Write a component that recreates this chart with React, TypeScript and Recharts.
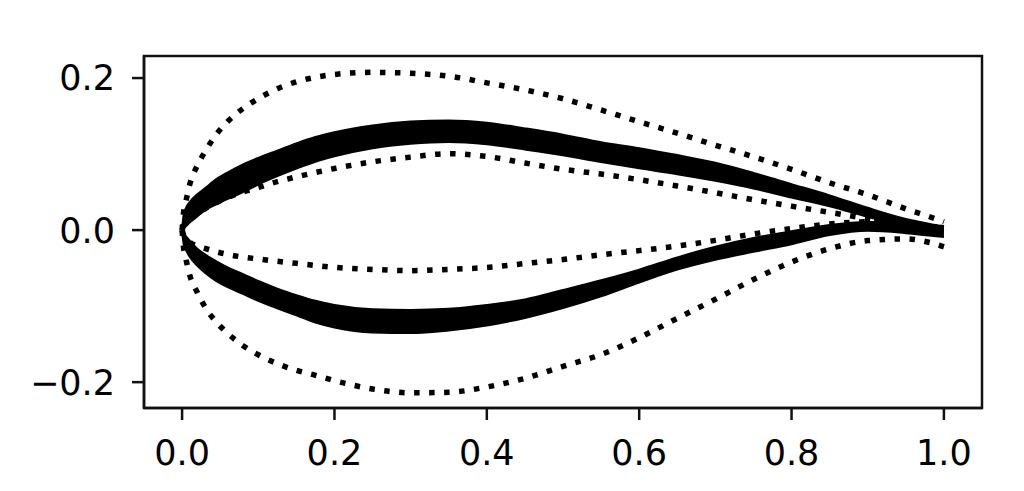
import React from "react";
import {
  ComposedChart,
  Area,
  Line,
  XAxis,
  YAxis,
  ReferenceArea,
} from "recharts";

// chordwise stations
const xs = [0, 0.002, 0.005, 0.01, 0.02, 0.03, 0.045, 0.06, 0.08, 0.1, 0.125, 0.15, 0.175, 0.2, 0.25, 0.3, 0.35, 0.4, 0.45, 0.5, 0.55, 0.6, 0.65, 0.7, 0.75, 0.8, 0.85, 0.9, 0.95, 0.98, 1.0];

// dotted envelopes
const outerUpper = [0, 0.024, 0.038, 0.06, 0.085, 0.103, 0.126, 0.143, 0.16, 0.173, 0.186, 0.195, 0.201, 0.2047, 0.2075, 0.2063, 0.2025, 0.1937, 0.1845, 0.1728, 0.158, 0.1425, 0.1275, 0.1117, 0.0965, 0.08, 0.0622, 0.0466, 0.028, 0.018, 0.011];
const outerLower = [0, -0.024, -0.038, -0.059, -0.082, -0.101, -0.121, -0.136, -0.152, -0.164, -0.1757, -0.1845, -0.191, -0.198, -0.209, -0.214, -0.2133, -0.2064, -0.195, -0.1793, -0.1637, -0.1415, -0.116, -0.091, -0.065, -0.042, -0.0245, -0.0138, -0.0116, -0.016, -0.022];
const innerUpper = [0, 0.006, 0.01, 0.015, 0.022, 0.028, 0.036, 0.043, 0.05, 0.056, 0.0637, 0.07, 0.0758, 0.081, 0.0898, 0.096, 0.1005, 0.0968, 0.0882, 0.08, 0.0737, 0.0663, 0.058, 0.0492, 0.04, 0.0315, 0.0233, 0.015, 0.008, 0.005, 0.003];
const innerLower = [0, -0.006, -0.011, -0.016, -0.021, -0.024, -0.0285, -0.032, -0.0355, -0.038, -0.041, -0.0437, -0.0465, -0.049, -0.0517, -0.0534, -0.0516, -0.0492, -0.044, -0.0387, -0.0325, -0.027, -0.021, -0.0135, -0.005, 0.002, 0.008, 0.011, 0.009, 0.006, 0.002];

// thick band of sampled airfoils (upper surface)
const upperBandTop = [0, 0.02, 0.029, 0.037, 0.047, 0.055, 0.067, 0.076, 0.0865, 0.095, 0.1045, 0.114, 0.1224, 0.1288, 0.1377, 0.1428, 0.1443, 0.1413, 0.1338, 0.1255, 0.1155, 0.1078, 0.0987, 0.0885, 0.0752, 0.0605, 0.0457, 0.0293, 0.0147, 0.0084, 0.004];
const upperBandBottom = [0, 0.002, 0.005, 0.01, 0.018, 0.026, 0.034, 0.041, 0.05, 0.06, 0.071, 0.081, 0.09, 0.097, 0.1077, 0.1135, 0.1158, 0.1128, 0.106, 0.0985, 0.0894, 0.0812, 0.0736, 0.0648, 0.0548, 0.0427, 0.0313, 0.0175, 0.005, 0.0, -0.004];
// thick band of sampled airfoils (lower surface)
const lowerBandTop = [0, -0.004, -0.008, -0.014, -0.0245, -0.032, -0.041, -0.049, -0.058, -0.067, -0.077, -0.0855, -0.093, -0.0985, -0.104, -0.105, -0.1035, -0.0985, -0.0912, -0.0788, -0.066, -0.052, -0.036, -0.022, -0.0105, -0.0015, 0.0067, 0.0105, 0.009, 0.0065, 0.004];
const lowerBandBottom = [0, -0.018, -0.026, -0.035, -0.047, -0.056, -0.067, -0.075, -0.084, -0.093, -0.103, -0.112, -0.1215, -0.128, -0.1346, -0.1354, -0.132, -0.1255, -0.1155, -0.1025, -0.087, -0.069, -0.052, -0.039, -0.0285, -0.0185, -0.0066, -0.001, -0.004, -0.007, -0.009];

const xTicks = [0, 0.2, 0.4, 0.6, 0.8, 1.0];
const yTicks = [-0.2, 0, 0.2];
const xDomain: [number, number] = [-0.05, 1.05];
const yDomain: [number, number] = [-0.234, 0.229];

const data = xs.map((x, i) => ({
  x,
  outerUpper: outerUpper[i],
  outerLower: outerLower[i],
  innerUpper: innerUpper[i],
  innerLower: innerLower[i],
  upperBand: [upperBandBottom[i], upperBandTop[i]],
  lowerBand: [lowerBandBottom[i], lowerBandTop[i]],
}));

const fmt = (v: number) => {
  const s = Math.abs(v).toFixed(1);
  return v < -1e-9 ? "\u2212" + s : s;
};

const tickStyle = { fontFamily: "DejaVu Sans", fontSize: 35, fill: "#000" };

export default function App() {
  const dotted = {
    stroke: "#000",
    strokeWidth: 5.5,
    strokeDasharray: "5.5 9.5",
    dot: false,
    activeDot: false,
    isAnimationActive: false,
    type: "monotone" as const,
  };
  return (
    <div style={{ width: 1008, height: 475, background: "#fff" }}>
      <ComposedChart
        width={1008}
        height={475}
        data={data}
        margin={{ top: 48, right: 34, bottom: 0, left: 0 }}
      >
        <XAxis
          type="number"
          dataKey="x"
          domain={xDomain}
          allowDataOverflow
          ticks={xTicks}
          tickFormatter={fmt}
          tick={tickStyle}
          tickSize={12}
          tickMargin={20}
          height={75}
          axisLine={{ stroke: "#111", strokeWidth: 2.5 }}
          tickLine={{ stroke: "#111", strokeWidth: 2.5 }}
        />
        <YAxis
          type="number"
          domain={yDomain}
          allowDataOverflow
          ticks={yTicks}
          tickFormatter={fmt}
          tick={tickStyle}
          tickSize={12}
          tickMargin={17}
          width={136}
          axisLine={{ stroke: "#111", strokeWidth: 2.5 }}
          tickLine={{ stroke: "#111", strokeWidth: 2.5 }}
        />
        <Area
          type="monotone"
          dataKey="upperBand"
          stroke="#000"
          strokeWidth={2}
          fill="#000"
          fillOpacity={1}
          dot={false}
          activeDot={false}
          isAnimationActive={false}
        />
        <Area
          type="monotone"
          dataKey="lowerBand"
          stroke="#000"
          strokeWidth={2}
          fill="#000"
          fillOpacity={1}
          dot={false}
          activeDot={false}
          isAnimationActive={false}
        />
        <Line dataKey="outerUpper" {...dotted} />
        <Line dataKey="outerLower" {...dotted} />
        <Line dataKey="innerUpper" {...dotted} />
        <Line dataKey="innerLower" {...dotted} />
        <ReferenceArea
          x1={xDomain[0]}
          x2={xDomain[1]}
          y1={yDomain[0]}
          y2={yDomain[1]}
          fill="none"
          fillOpacity={0}
          stroke="#111"
          strokeWidth={2.5}
          ifOverflow="visible"
        />
      </ComposedChart>
    </div>
  );
}
